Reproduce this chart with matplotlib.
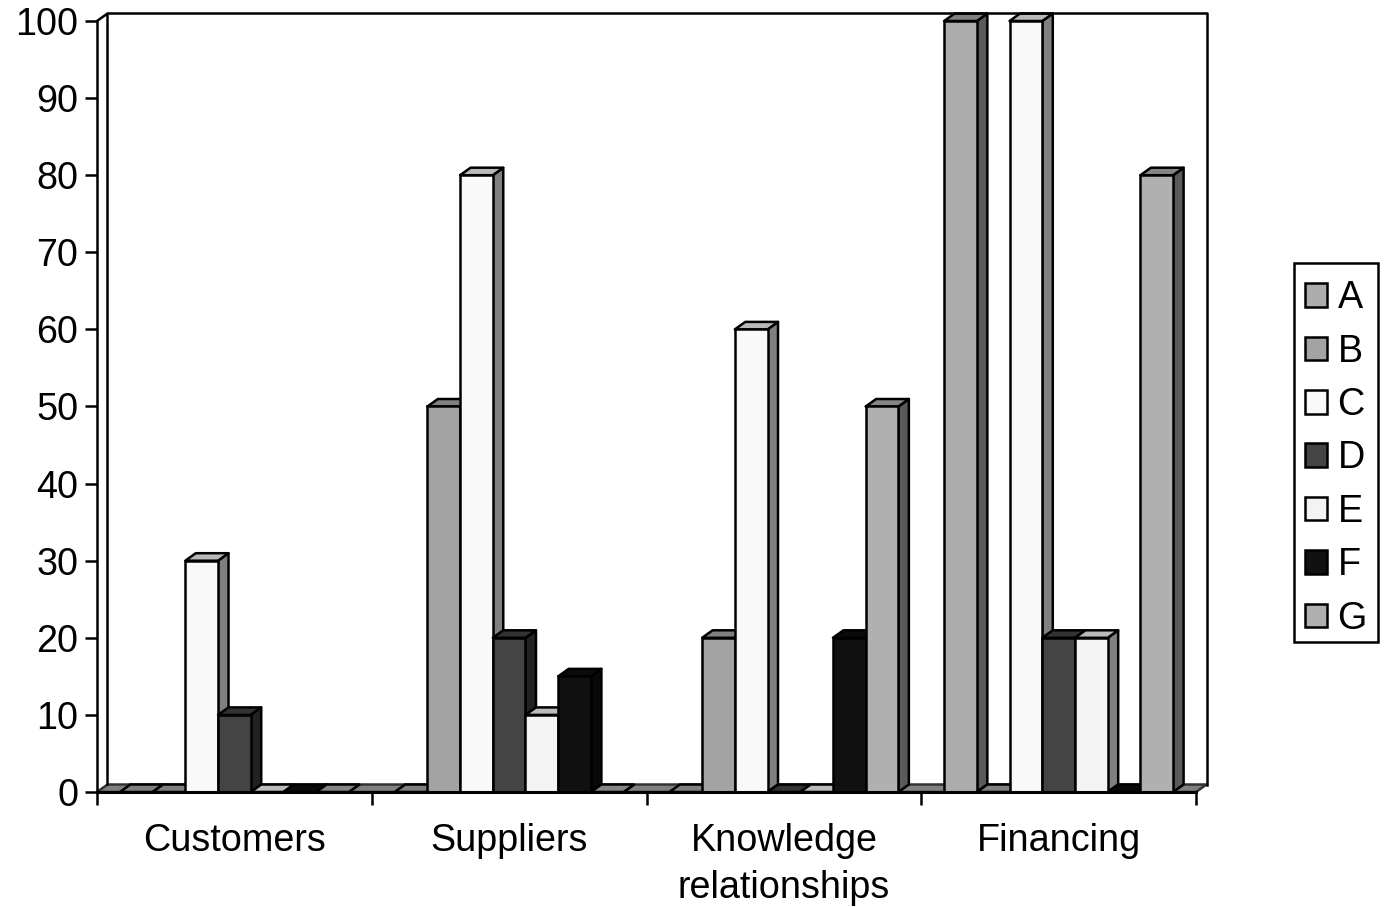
# -*- coding: utf-8 -*-
import matplotlib
matplotlib.use('Agg')
import matplotlib.pyplot as plt
from matplotlib.patches import Patch, Rectangle

plt.rcParams['font.family'] = ['Liberation Sans', 'DejaVu Sans']

categorias = ['Customers', 'Suppliers', 'Knowledge\nrelationships', 'Financing']
series = ['A', 'B', 'C', 'D', 'E', 'F', 'G']
yticks = [0, 10, 20, 30, 40, 50, 60, 70, 80, 90, 100]

A = [0, 0, 0, 100]
B = [0, 50, 20, 0]
C = [30, 80, 60, 100]
D = [10, 20, 0, 20]
E = [0, 10, 0, 20]
F = [0, 15, 20, 0]
G = [0, 0, 50, 80]
valores = [A, B, C, D, E, F, G]

frente = ['#acacac', '#a3a3a3', '#f9f9f9', '#444444', '#f3f3f3', '#111111', '#b0b0b0']
arriba = ['#808080', '#808080', '#b9b9b9', '#333333', '#bbbbbb', '#0a0a0a', '#858585']
lado = ['#5a5a5a', '#707070', '#808080', '#222222', '#808080', '#080808', '#5a5a5a']

W, H = 1385, 907
fig = plt.figure(figsize=(W / 100, H / 100), dpi=100)
ax = fig.add_axes([97 / W, 1 - 792 / H, (1196 - 97) / W, (792 - 21) / H])
ax.set_xlim(0, 4)
ax.set_ylim(0, 100)

# profundidad del efecto 3D en unidades de datos
dx = 10.5 / 274.75
dy = 7.5 / 7.71
ancho = 1 / 8.4
hueco = 0.7 * ancho
lw = 1.8
fs = 27.2

# pared del fondo y piso
ax.fill([0, 4, 4 + dx, dx], [0, 0, dy, dy], facecolor='#808080', edgecolor='#333333', lw=lw, clip_on=False)
ax.plot([0, dx, dx], [100, 100 + dy, dy], 'k', lw=lw, clip_on=False)
ax.plot([dx, 4 + dx, 4 + dx], [100 + dy, 100 + dy, dy], 'k', lw=lw, clip_on=False)

for g in range(len(categorias)):
    for s in range(len(series)):
        x0 = g + hueco + s * ancho
        x1 = x0 + ancho
        v = valores[s][g]
        ax.fill([x1, x1 + dx, x1 + dx, x1], [0, dy, v + dy, v], facecolor=lado[s],
                edgecolor='k', lw=lw, clip_on=False, joinstyle='round')
        ax.fill([x0, x1, x1 + dx, x0 + dx], [v, v, v + dy, v + dy], facecolor=arriba[s],
                edgecolor='k', lw=lw, clip_on=False, joinstyle='round')
        ax.bar(x0, v, ancho, align='edge', color=frente[s], edgecolor='k', lw=lw, clip_on=False)

ax.spines['top'].set_visible(False)
ax.spines['right'].set_visible(False)
ax.spines['left'].set_linewidth(lw)
ax.spines['bottom'].set_linewidth(lw + 0.4)
ax.spines['left'].set_zorder(5)
ax.spines['bottom'].set_zorder(5)

ax.set_yticks(yticks)
ax.set_xticks([0, 1, 2, 3, 4])
ax.set_xticklabels([])
ax.set_xticks([0.5, 1.5, 2.5, 3.5], minor=True)
ax.set_xticklabels(categorias, minor=True, linespacing=1.42)
ax.tick_params(axis='y', length=9, width=lw, labelsize=fs, pad=4.5)
ax.tick_params(axis='x', which='major', length=9, width=lw)
ax.tick_params(axis='x', which='minor', length=0, labelsize=fs, pad=22)

# el marco de la leyenda va aparte porque el original no esta centrado
fig.add_artist(Rectangle((1294 / W, 1 - 642 / H), 84 / W, 379 / H, transform=fig.transFigure,
                         facecolor='white', edgecolor='k', lw=lw))
asas = [Patch(facecolor=frente[i], edgecolor='k', lw=lw) for i in range(len(series))]
fig.legend(asas, series, loc='upper left', bbox_to_anchor=(1294 / W, 1 - 269 / H),
           borderaxespad=0, fontsize=fs, frameon=False, handlelength=0.58, handleheight=0.58,
           handletextpad=0.27, labelspacing=0.46, borderpad=0.3)

fig.savefig('out.png', dpi=100)
